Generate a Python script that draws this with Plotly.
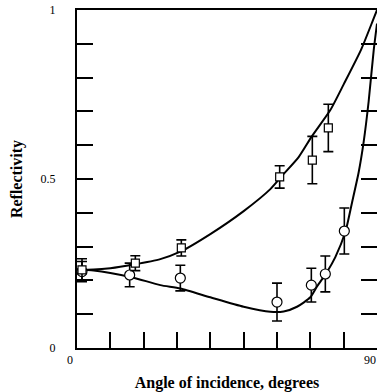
import plotly.graph_objects as go

# Measured data (angle in degrees, reflectivity)
sq_angle = [1.5, 17.5, 31.3, 60.8, 70.6, 75.4]
sq_refl = [0.231, 0.251, 0.296, 0.506, 0.556, 0.651]
sq_err = [0.033, 0.022, 0.024, 0.033, 0.070, 0.070]

ci_angle = [1.5, 15.8, 31.0, 60.0, 70.3, 74.5, 80.2]
ci_refl = [0.226, 0.216, 0.207, 0.136, 0.186, 0.219, 0.346]
ci_err = [0.030, 0.035, 0.038, 0.056, 0.050, 0.053, 0.068]

# Fitted curves
sq_fit_angle = [0, 5, 10, 17, 25, 31, 40, 50, 58, 62, 66.5, 70.3, 76, 80, 85.2, 88.8, 90]
sq_fit_refl = [0.232, 0.232, 0.236, 0.247, 0.263, 0.285, 0.337, 0.405, 0.47, 0.515, 0.565,
               0.624, 0.704, 0.78, 0.882, 0.97, 1.0]

ci_fit_angle = [0, 5, 10, 17, 25, 31, 40, 50, 58, 62, 66, 70, 72, 75, 77.5, 80.5, 82.5,
                84.5, 86, 87.5, 89, 90]
ci_fit_refl = [0.232, 0.229, 0.222, 0.208, 0.186, 0.176, 0.150, 0.122, 0.107, 0.108, 0.122,
               0.150, 0.182, 0.225, 0.269, 0.343, 0.43, 0.52, 0.61, 0.73, 0.88, 0.96]

x_ticks = [0, 10, 20, 30, 40, 50, 60, 70, 80, 90]
x_labels = ["0", "", "", "", "", "", "", "", "", "90"]
y_ticks = [0, 0.1, 0.2, 0.3, 0.4, 0.5, 0.6, 0.7, 0.8, 0.9, 1.0]
y_labels = ["0", "", "", "", "", "0.5", "", "", "", "", "1"]

FONT = "Liberation Serif"

fig = go.Figure()
fig.add_trace(go.Scatter(x=sq_fit_angle, y=sq_fit_refl, mode="lines",
                         line=dict(color="black", width=2, shape="spline", smoothing=0.6),
                         hoverinfo="skip", showlegend=False))
fig.add_trace(go.Scatter(x=ci_fit_angle, y=ci_fit_refl, mode="lines",
                         line=dict(color="black", width=2, shape="spline", smoothing=0.6),
                         hoverinfo="skip", showlegend=False))
fig.add_trace(go.Scatter(x=ci_angle, y=ci_refl, mode="markers",
                         marker=dict(symbol="circle", size=10, color="white",
                                     line=dict(color="black", width=1.2)),
                         error_y=dict(type="data", array=ci_err, color="black",
                                      thickness=1.6, width=5),
                         showlegend=False))
fig.add_trace(go.Scatter(x=sq_angle, y=sq_refl, mode="markers",
                         marker=dict(symbol="square", size=8, color="white",
                                     line=dict(color="black", width=1.2)),
                         error_y=dict(type="data", array=sq_err, color="black",
                                      thickness=1.6, width=5),
                         showlegend=False))

fig.update_layout(
    width=377, height=392,
    margin=dict(l=77, r=0, t=10, b=44),
    paper_bgcolor="white", plot_bgcolor="white",
    font=dict(family=FONT, color="black", size=12),
    xaxis=dict(range=[0, 90], tickvals=x_ticks, ticktext=x_labels,
               ticks="inside", ticklen=16, tickwidth=2, tickcolor="black",
               showline=True, linewidth=2, linecolor="black", mirror=True,
               showgrid=False, zeroline=False, automargin=False,
               ticklabelshift=-7,
               tickfont=dict(family=FONT, size=12),
               title=dict(text="<b>Angle of incidence, degrees</b>",
                          font=dict(family=FONT, size=16), standoff=10)),
    yaxis=dict(range=[0, 1], tickvals=y_ticks, ticktext=y_labels,
               ticks="inside", ticklen=16, tickwidth=2, tickcolor="black",
               showline=True, linewidth=2, linecolor="black", mirror="ticks",
               showgrid=False, zeroline=False, automargin=False,
               ticklabelstandoff=17,
               tickfont=dict(family=FONT, size=12),
               title=dict(text="<b>Reflectivity</b>",
                          font=dict(family=FONT, size=16), standoff=14)),
)

fig.write_html("out.html")
